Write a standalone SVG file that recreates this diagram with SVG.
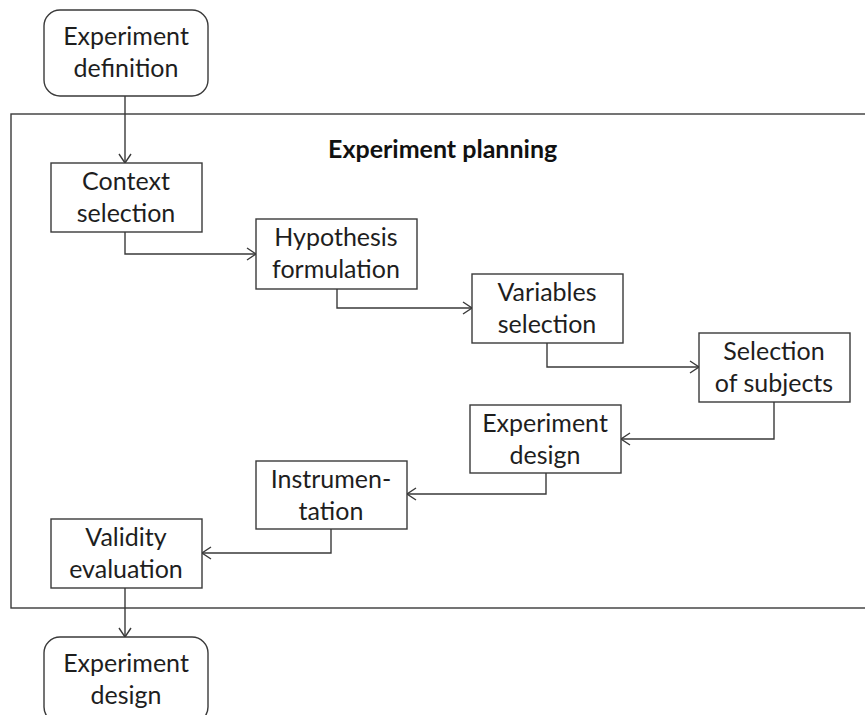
<svg xmlns="http://www.w3.org/2000/svg" width="865" height="715" viewBox="0 0 865 715">
  <style>
    .box { fill: #ffffff; stroke: #3a3a3a; stroke-width: 1.4; }
    .frame { fill: none; stroke: #3a3a3a; stroke-width: 1.4; }
    .lbl { font-family: Lato, "Liberation Sans", sans-serif; font-size: 25px; fill: #1e1e1e; text-anchor: middle; }
    .title { font-family: Lato, "Liberation Sans", sans-serif; font-size: 25px; font-weight: bold; fill: #111111; }
    .conn { fill: none; stroke: #3a3a3a; stroke-width: 1.4; marker-end: url(#arrow); }
  </style>
  <defs>
    <marker id="arrow" markerUnits="userSpaceOnUse" markerWidth="14" markerHeight="14" refX="11" refY="7" orient="auto">
      <path d="M2,1 L11,7 L2,13" fill="none" stroke="#3a3a3a" stroke-width="1.4"/>
    </marker>
  </defs>
  <rect width="865" height="715" fill="#ffffff"/>

  <!-- planning frame -->
  <g id="planning">
    <rect class="frame" x="11" y="114" width="870" height="494"/>
    <text class="title" x="328" y="158">Experiment planning</text>
  </g>

  <g id="connectors">
    <path class="conn" d="M125,96 V163"/>
    <path class="conn" d="M125,232 V254 H256"/>
    <path class="conn" d="M337,289 V308 H472"/>
    <path class="conn" d="M547,343 V367 H699"/>
    <path class="conn" d="M774,402 V439 H621"/>
    <path class="conn" d="M546,473 V494 H407"/>
    <path class="conn" d="M331,529 V553 H202"/>
    <path class="conn" d="M125,588 V637"/>
  </g>

  <g id="experiment-definition">
    <rect class="box" x="44" y="10" width="164" height="86" rx="16"/>
    <text class="lbl" x="126" y="45">Experiment</text>
    <text class="lbl" x="126" y="77">definition</text>
  </g>
  <g id="context-selection">
    <rect class="box" x="51" y="163" width="151" height="69"/>
    <text class="lbl" x="126" y="190">Context</text>
    <text class="lbl" x="126" y="222">selection</text>
  </g>
  <g id="hypothesis-formulation">
    <rect class="box" x="256" y="219" width="161" height="70"/>
    <text class="lbl" x="336" y="246">Hypothesis</text>
    <text class="lbl" x="336" y="278">formulation</text>
  </g>
  <g id="variables-selection">
    <rect class="box" x="472" y="274" width="151" height="69"/>
    <text class="lbl" x="547" y="301">Variables</text>
    <text class="lbl" x="547" y="333">selection</text>
  </g>
  <g id="selection-of-subjects">
    <rect class="box" x="699" y="333" width="151" height="69"/>
    <text class="lbl" x="774" y="360">Selection</text>
    <text class="lbl" x="774" y="392">of subjects</text>
  </g>
  <g id="experiment-design-step">
    <rect class="box" x="470" y="405" width="151" height="68"/>
    <text class="lbl" x="545" y="432">Experiment</text>
    <text class="lbl" x="545" y="464">design</text>
  </g>
  <g id="instrumentation">
    <rect class="box" x="256" y="461" width="151" height="68"/>
    <text class="lbl" x="331" y="488">Instrumen-</text>
    <text class="lbl" x="331" y="520">tation</text>
  </g>
  <g id="validity-evaluation">
    <rect class="box" x="51" y="519" width="151" height="69"/>
    <text class="lbl" x="126" y="546">Validity</text>
    <text class="lbl" x="126" y="578">evaluation</text>
  </g>
  <g id="experiment-design">
    <rect class="box" x="44" y="637" width="164" height="86" rx="16"/>
    <text class="lbl" x="126" y="672">Experiment</text>
    <text class="lbl" x="126" y="704">design</text>
  </g>
</svg>
